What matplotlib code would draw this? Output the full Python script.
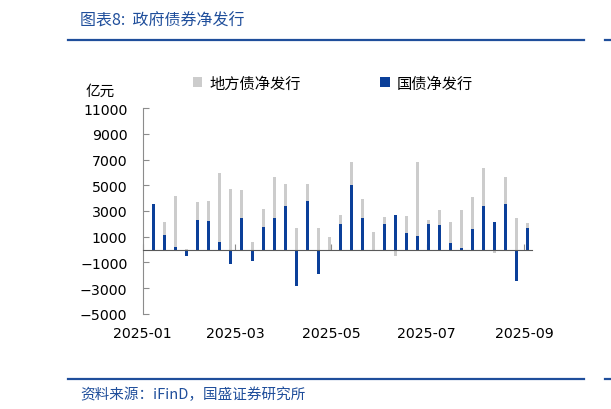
import pandas as pd
import matplotlib.pyplot as plt
import matplotlib.dates as mdates
from matplotlib.lines import Line2D

# weekly net issuance (亿元)
weeks = pd.date_range("2025-01-01", periods=36, freq="7D")
local_bonds = [0, 3200, 2160, 4160, 80, 3690, 3790, 5920, 4700, 4650,
               550, 3190, 5640, 5120, 1690, 5060, 1660, 960, 2680, 6780,
               3920, 1400, 2550, -490, 2620, 6780, 2290, 3040, 2160, 3060,
               4080, 6310, -230, 5660, 2470, 2100]
treasury = [-330, 3530, 1170, 210, -490, 2260, 2230, 570, -1090, 2490,
            -880, 1790, 2420, 3380, -2830, 3740, -1870, 0, 1950, 4990,
            2420, 0, 1950, 2650, 1320, 1090, 1970, 1900, 545, 100,
            1580, 3350, 2180, 3510, -2440, 1660]

cjk = ["Noto Sans CJK SC", "DejaVu Sans"]
blue = "#0B3F99"
gray = "#CCCCCC"
title_blue = "#1F4E9B"

fig = plt.figure(figsize=(6.11, 4.10), dpi=100)
ax = fig.add_axes([0.2335, 0.232, 0.637, 0.502])

ax.bar(weeks, local_bonds, width=1.8, color=gray, label="地方债净发行", zorder=1)
ax.bar(weeks, treasury, width=1.8, color=blue, label="国债净发行", zorder=2)

ax.set_ylim(-5000, 11000)
ax.set_yticks(range(-5000, 11001, 2000))
ax.set_xlim(pd.Timestamp("2025-01-01"), pd.Timestamp("2025-09-06"))
ax.xaxis.set_major_locator(mdates.MonthLocator(bymonth=[1, 3, 5, 7, 9]))
ax.xaxis.set_major_formatter(mdates.DateFormatter("%Y-%m"))

for s in ["top", "right"]:
    ax.spines[s].set_visible(False)
ax.spines["left"].set_color("#8C8C8C")
ax.spines["bottom"].set_position(("data", 0))
ax.spines["bottom"].set_color("#595959")
ax.tick_params(axis="y", direction="in", length=4, color="#8C8C8C",
               labelsize=10.2, pad=11)
ax.tick_params(axis="x", direction="in", length=4, color="#8C8C8C",
               labelsize=10.2, pad=55)

ax.text(-0.148, 1.083, "亿元", transform=ax.transAxes, fontsize=10.5,
        family=cjk, ha="left", va="center")

leg = fig.legend(loc="center", bbox_to_anchor=(0.545, 0.795), ncol=2,
                 frameon=False, prop={"family": cjk, "size": 11},
                 handlelength=0.6, handleheight=0.6, handletextpad=0.5,
                 columnspacing=5.2)

fig.text(0.131, 0.949, "图表8:  政府债券净发行", fontsize=11.5, family=cjk,
         style="italic", color=title_blue, ha="left", va="center")
fig.text(0.131, 0.037, "资料来源：iFinD，国盛证券研究所", fontsize=10.5,
         family=cjk, style="italic", color=title_blue, ha="left", va="center")

for y in [1 - 41 / 410, 1 - 380 / 410]:
    fig.add_artist(Line2D([68 / 611, 584 / 611], [y, y], color=title_blue,
                          lw=1.6, transform=fig.transFigure))
    fig.add_artist(Line2D([605 / 611, 1.0], [y, y], color=title_blue,
                          lw=1.6, transform=fig.transFigure))

fig.savefig("out.png", dpi=100)
